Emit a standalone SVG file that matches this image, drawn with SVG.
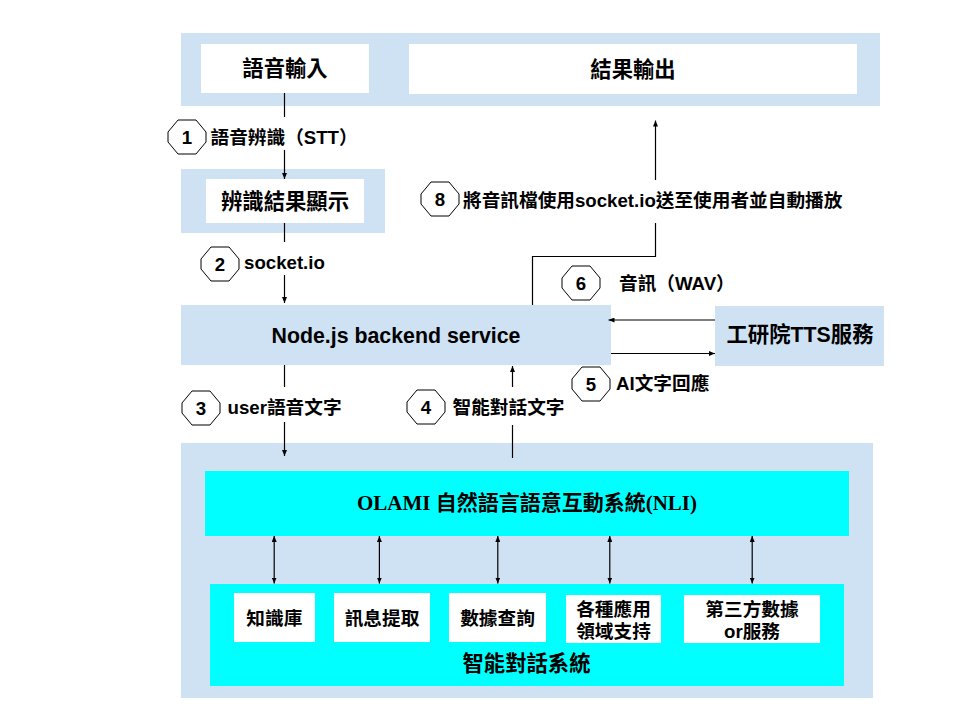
<svg xmlns="http://www.w3.org/2000/svg" width="960" height="720" viewBox="0 0 960 720">
<style>
  .band { fill: #cfe2f3; }
  .white { fill: #ffffff; }
  .cyan { fill: #00ffff; }
  .node { font-family: "Liberation Sans", "Noto Sans CJK TC", sans-serif; font-weight: bold; font-size: 21.33px; fill: #000; text-anchor: middle; }
  .serif { font-family: "Liberation Serif", "Noto Sans CJK TC", serif; font-weight: bold; font-size: 21px; fill: #000; text-anchor: middle; }
  .lbl { font-family: "Liberation Sans", "Noto Sans CJK TC", sans-serif; font-weight: bold; font-size: 18.67px; fill: #000; }
  .sm { font-family: "Liberation Sans", "Noto Sans CJK TC", sans-serif; font-weight: bold; font-size: 18.67px; fill: #000; text-anchor: middle; }
  .oct { fill: #ffffff; stroke: #000; stroke-width: 1; }
  .num { font-family: "Liberation Sans", sans-serif; font-weight: bold; font-size: 18.67px; fill: #000; text-anchor: middle; }
  .ln { fill: none; stroke: #000; stroke-width: 1.2; }
</style>
<defs>
  <marker id="ah" viewBox="0 0 6 5" refX="6" refY="2.5" markerWidth="6" markerHeight="5" markerUnits="userSpaceOnUse" orient="auto-start-reverse">
    <path d="M0,0 L6,2.5 L0,5 z" fill="#000"/>
  </marker>
  <polygon id="octshape" points="10,0 28,0 38,12 38,22 28,34 10,34 0,22 0,12"/>
</defs>
<rect width="960" height="720" fill="#ffffff"/>

<g id="top-band">
  <rect class="band" x="181" y="33" width="699" height="73"/>
</g>
<g id="voice-input">
  <rect class="white" x="201" y="44" width="168" height="49"/>
  <text class="node" x="285" y="76">語音輸入</text>
</g>
<g id="result-output">
  <rect class="white" x="409" y="44" width="448" height="50"/>
  <text class="node" x="633" y="77">結果輸出</text>
</g>
<g id="recog-display">
  <rect class="band" x="181" y="169" width="204" height="64"/>
  <rect class="white" x="206" y="179" width="158" height="44"/>
  <text class="node" x="285" y="208.5">辨識結果顯示</text>
</g>
<g id="nodejs">
  <rect class="band" x="181" y="305" width="430" height="60"/>
  <text class="node" x="396" y="342.5">Node.js backend service</text>
</g>
<g id="tts">
  <rect class="band" x="715" y="306" width="169" height="60"/>
  <text class="node" x="800" y="342">工研院TTS服務</text>
</g>
<g id="nli-system">
  <rect class="band" x="181" y="443" width="692" height="255"/>
</g>
<g id="olami">
  <rect class="cyan" x="205" y="471" width="644" height="65"/>
  <text class="serif" x="527" y="510">OLAMI 自然語言語意互動系統(NLI)</text>
</g>
<g id="dialog-system">
  <rect class="cyan" x="210" y="584" width="634" height="102"/>
  <text class="node" x="526.5" y="671">智能對話系統</text>
</g>
<g id="knowledge">
  <rect class="white" x="234" y="593" width="81" height="49"/>
  <text class="sm" x="274.3" y="625">知識庫</text>
</g>
<g id="info-extract">
  <rect class="white" x="334" y="593" width="96" height="49"/>
  <text class="sm" x="382" y="625">訊息提取</text>
</g>
<g id="data-query">
  <rect class="white" x="449" y="593" width="97" height="49"/>
  <text class="sm" x="497.5" y="625">數據查詢</text>
</g>
<g id="domain-support">
  <rect class="white" x="566" y="595" width="95" height="48"/>
  <text class="sm" x="613.5" y="615.5">各種應用</text>
  <text class="sm" x="613.5" y="638">領域支持</text>
</g>
<g id="third-party">
  <rect class="white" x="684" y="595" width="136" height="48"/>
  <text class="sm" x="752" y="615.5">第三方數據</text>
  <text class="sm" x="752" y="638">or服務</text>
</g>

<g id="connectors">
  <line class="ln" x1="284.5" y1="93" x2="284.5" y2="117"/>
  <line class="ln" x1="284.5" y1="150" x2="284.5" y2="179" marker-end="url(#ah)"/>
  <line class="ln" x1="284.5" y1="223" x2="284.5" y2="242"/>
  <line class="ln" x1="284.5" y1="275" x2="284.5" y2="303" marker-end="url(#ah)"/>
  <line class="ln" x1="284.5" y1="365" x2="284.5" y2="387"/>
  <line class="ln" x1="284.5" y1="422" x2="284.5" y2="456" marker-end="url(#ah)"/>
  <line class="ln" x1="512.5" y1="458" x2="512.5" y2="425"/>
  <line class="ln" x1="512.5" y1="387" x2="512.5" y2="366" marker-end="url(#ah)"/>
  <line class="ln" x1="611" y1="353.5" x2="715" y2="353.5" marker-end="url(#ah)"/>
  <line class="ln" x1="715" y1="320" x2="608.5" y2="320" marker-end="url(#ah)"/>
  <polyline class="ln" points="532.5,305 532.5,256.5 655.5,256.5 655.5,223"/>
  <line class="ln" x1="655.5" y1="180" x2="655.5" y2="120.5" marker-end="url(#ah)"/>
  <line class="ln" x1="274.2" y1="536" x2="274.2" y2="583.5" marker-start="url(#ah)" marker-end="url(#ah)"/>
  <line class="ln" x1="379.4" y1="536" x2="379.4" y2="583.5" marker-start="url(#ah)" marker-end="url(#ah)"/>
  <line class="ln" x1="497.8" y1="536" x2="497.8" y2="583.5" marker-start="url(#ah)" marker-end="url(#ah)"/>
  <line class="ln" x1="609.8" y1="536" x2="609.8" y2="583.5" marker-start="url(#ah)" marker-end="url(#ah)"/>
  <line class="ln" x1="752.2" y1="536" x2="752.2" y2="583.5" marker-start="url(#ah)" marker-end="url(#ah)"/>
</g>

<g id="label-1">
  <use href="#octshape" class="oct" x="168" y="120"/>
  <text class="num" x="187" y="143.5">1</text>
  <text class="lbl" x="210.5" y="143.5">語音辨識（STT）</text>
</g>
<g id="label-2">
  <use href="#octshape" class="oct" x="201" y="247"/>
  <text class="num" x="220" y="270.5">2</text>
  <text class="lbl" x="244" y="268.5">socket.io</text>
</g>
<g id="label-3">
  <use href="#octshape" class="oct" x="182" y="391"/>
  <text class="num" x="201" y="414.5">3</text>
  <text class="lbl" x="227.5" y="414">user語音文字</text>
</g>
<g id="label-4">
  <use href="#octshape" class="oct" x="407" y="390"/>
  <text class="num" x="426" y="413.5">4</text>
  <text class="lbl" x="452.5" y="414">智能對話文字</text>
</g>
<g id="label-5">
  <use href="#octshape" class="oct" x="572" y="367"/>
  <text class="num" x="591" y="390.5">5</text>
  <text class="lbl" x="616" y="389.5">AI文字回應</text>
</g>
<g id="label-6">
  <use href="#octshape" class="oct" x="562" y="266"/>
  <text class="num" x="581" y="289.5">6</text>
  <text class="lbl" x="619" y="289.5">音訊（WAV）</text>
</g>
<g id="label-8">
  <use href="#octshape" class="oct" x="421" y="182"/>
  <text class="num" x="440" y="205.5">8</text>
  <text class="lbl" x="463" y="207">將音訊檔使用socket.io送至使用者並自動播放</text>
</g>
</svg>
